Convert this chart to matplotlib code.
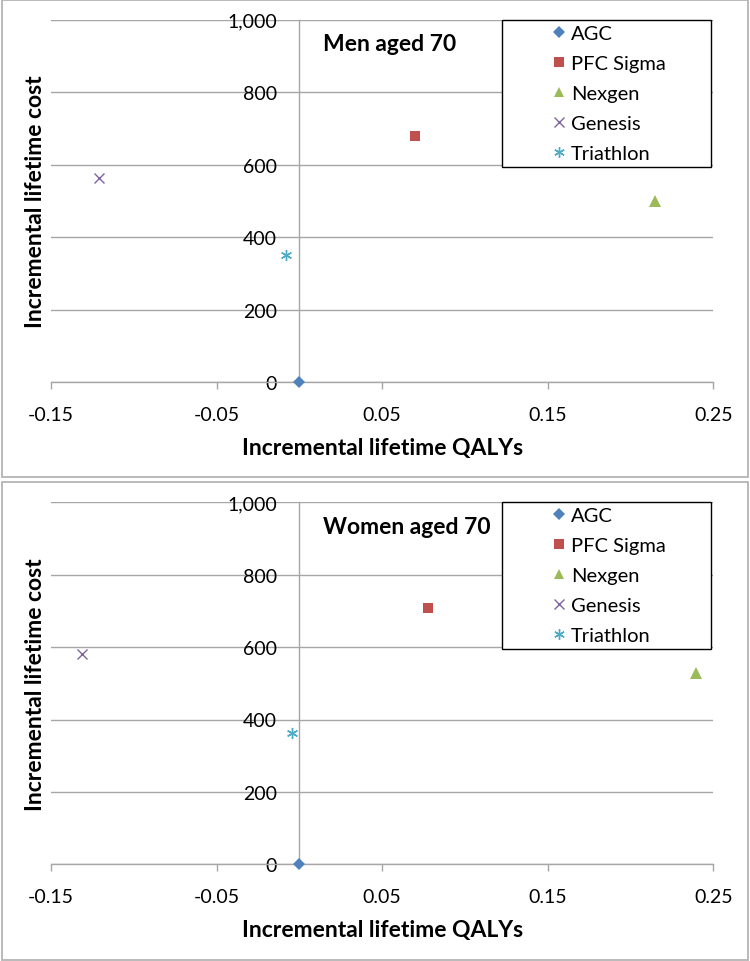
import matplotlib
matplotlib.use("Agg")
import matplotlib.pyplot as plt
from matplotlib.patches import Rectangle
from matplotlib.ticker import FuncFormatter, FixedLocator

plt.rcParams['font.family'] = ['Lato', 'DejaVu Sans']

products = ["AGC", "PFC Sigma", "Nexgen", "Genesis", "Triathlon"]
colors = ["#4F81BD", "#C0504D", "#9BBB59", "#8064A2", "#4BACC6"]
markers = ["D", "s", "^", "x", (6, 2, 0)]
msizes = [6.5, 7.5, 8, 7, 8]

men_qaly = [0.0, 0.070, 0.215, -0.121, -0.008]
men_cost = [0, 678, 500, 564, 351]
women_qaly = [0.0, 0.0775, 0.2395, -0.131, -0.0045]
women_cost = [0, 707, 528, 581, 363]

panel_titles = ["Men aged 70", "Women aged 70"]
x_ticks = [-0.15, -0.05, 0.05, 0.15, 0.25]
y_ticks = [0, 200, 400, 600, 800, 1000]
xlabel = "Incremental lifetime QALYs"
ylabel = "Incremental lifetime cost"

W, H = 750, 962
fig = plt.figure(figsize=(W / 100, H / 100), dpi=100)

# panel borders (pixel coords from top)
for (top, bot) in [(1.0, 478.0), (482.7, 960.7)]:
    fig.patches.append(Rectangle((1.7 / W, 1 - bot / H), 746 / W, (bot - top) / H,
                                 transform=fig.transFigure, fill=False,
                                 edgecolor="#b4b4b4", linewidth=1.3))

axes_px = [(20.7, 383.0), (503.3, 865.3)]
grid_c = "#a6a6a6"
datasets = [(men_qaly, men_cost), (women_qaly, women_cost)]
tick_fs = 14
bold_fs = 16.5
leg_fs = 14.5

for i, ((top, bot), (qx, cy)) in enumerate(zip(axes_px, datasets)):
    left, right = 51.0, 713.3
    ax = fig.add_axes([left / W, 1 - bot / H, (right - left) / W, (bot - top) / H])
    ax.set_xlim(-0.15, 0.25)
    ax.set_ylim(0, 1000)
    ax.set_facecolor("none")
    for s in ["top", "right"]:
        ax.spines[s].set_visible(False)
    ax.spines["left"].set_position(("data", 0))
    for s in ["left", "bottom"]:
        ax.spines[s].set_color(grid_c)
        ax.spines[s].set_linewidth(1.0)
    ax.xaxis.set_major_locator(FixedLocator(x_ticks))
    ax.yaxis.set_major_locator(FixedLocator(y_ticks))
    ax.xaxis.set_major_formatter(FuncFormatter(lambda v, p: f"{v:.2f}"))
    ax.yaxis.set_major_formatter(FuncFormatter(lambda v, p: f"{int(round(v)):,}"))
    ax.tick_params(axis="x", direction="out", length=5, width=1.0, color=grid_c,
                   labelsize=tick_fs, pad=12, labelcolor="black")
    ax.tick_params(axis="y", length=0, labelsize=tick_fs, pad=16, labelcolor="black")
    ax.yaxis.grid(True, color=grid_c, linewidth=1.0)
    ax.set_axisbelow(True)

    for name, c, m, ms, x, y in zip(products, colors, markers, msizes, qx, cy):
        kw = dict(color=c, markersize=ms, linestyle="none", label=name, zorder=3, clip_on=False)
        if m in ("x",) or isinstance(m, tuple):
            kw["markeredgewidth"] = 1.0
        else:
            kw["markeredgewidth"] = 0
        ax.plot([x], [y], marker=m, **kw)

    ax.set_xlabel(xlabel, fontsize=bold_fs, fontweight="bold", va="center")
    ax.xaxis.set_label_coords(0.5, -0.18)
    ax.set_ylabel(ylabel, fontsize=bold_fs, fontweight="bold", va="center")
    ax.yaxis.set_label_coords(-0.0234, 0.50)

    ax.text(0.41, 0.934, panel_titles[i], transform=ax.transAxes, fontsize=bold_fs,
            fontweight="bold", ha="left", va="center")

    # legend box
    bx0 = (501.7 - left) / (right - left)
    bx1 = (710.7 - left) / (right - left)
    by0 = 1 - (167.7 - 20.7) / (bot - top)
    ax.add_patch(Rectangle((bx0, by0), bx1 - bx0, 1 - by0, transform=ax.transAxes,
                           facecolor="white", edgecolor="black", linewidth=1.0,
                           zorder=4, clip_on=False))
    leg = ax.legend(loc="center", bbox_to_anchor=((bx0 + bx1) / 2 + 0.002, (by0 + 1) / 2),
                    frameon=False, fontsize=leg_fs, handletextpad=0.1, handlelength=1.0,
                    labelspacing=0.64, borderpad=0, markerscale=0.95)
    leg.set_zorder(5)

fig.savefig("out.png", dpi=100)
